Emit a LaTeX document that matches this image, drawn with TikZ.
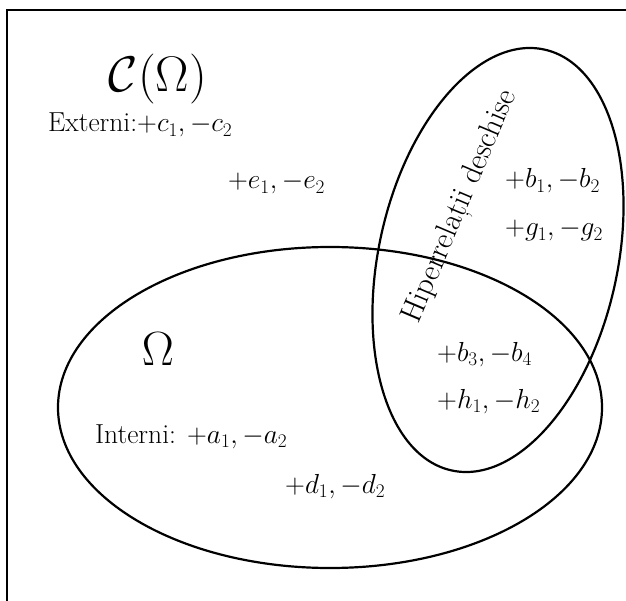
\RequirePackage{fix-cm}
\documentclass[tikz,border=0pt]{standalone}
\usetikzlibrary{shapes.geometric}
\begin{document}
\begin{tikzpicture}[x=1pt,y=-1pt,
  lbl/.style={inner sep=0pt, anchor=base west, font=\fontsize{27.5}{32}\selectfont},
  setline/.style={draw, ellipse, line width=2.2pt, inner sep=0pt},
  frameline/.style={line width=2.4pt}]
\useasboundingbox (0,0) rectangle (626,601);
% frame (cut at right and bottom)
\coordinate (fbl) at (7,601);
\coordinate (ftr) at (626,10);
\draw[frameline] (fbl) |- (ftr);
% sets
\node[setline, minimum width=544pt, minimum height=321pt] (omega) at (330,407.5) {};
\node[setline, minimum width=238.8pt, minimum height=431pt, rotate=-12.45] (hiper) at (498,260) {};
% titles
\node[inner sep=0pt, anchor=base, font=\fontsize{50}{54}\selectfont] (title) at (158,92) {$\mathcal{C}(\Omega)$};
\node[inner sep=0pt, anchor=base, font=\fontsize{48}{52}\selectfont] (om) at (158,365) {$\Omega$};
% labels
\node[lbl] (ext) at (48,132) {Externi:$+c_1,-c_2$};
\node[lbl] (e) at (228,189) {$+e_1,-e_2$};
\node[lbl] (b1) at (505,188) {$+b_1,-b_2$};
\node[lbl] (g) at (505,236) {$+g_1,-g_2$};
\node[lbl] (b3) at (437,361) {$+b_3,-b_4$};
\node[lbl] (h) at (437,408) {$+h_1,-h_2$};
\node[lbl] (int) at (95,443) {Interni: $+a_1,-a_2$};
\node[lbl] (d) at (285,493) {$+d_1,-d_2$};
\node[inner sep=0pt, rotate=67, font=\fontsize{31}{35}\selectfont] (hl) at (461,207) {Hiperrelații deschise};
\end{tikzpicture}
\end{document}
